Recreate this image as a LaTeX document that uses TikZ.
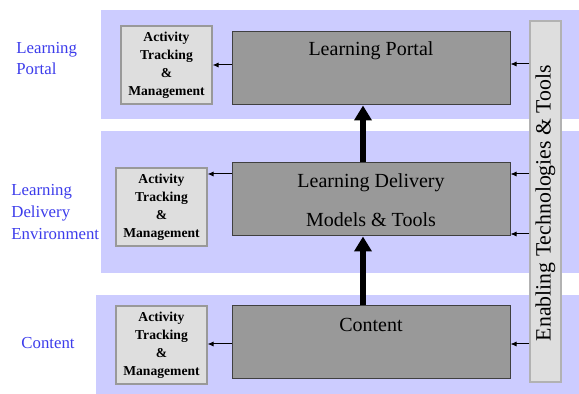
\documentclass[tikz,border=0pt]{standalone}
\usepackage{fontspec}
\setmainfont{Liberation Serif}
\usetikzlibrary{arrows.meta}
\definecolor{bandc}{RGB}{204,204,255}
\definecolor{grayc}{RGB}{153,153,153}
\definecolor{lightc}{RGB}{222,222,222}
\definecolor{labc}{RGB}{60,60,235}
\begin{document}
\begin{tikzpicture}[x=0.5pt,y=-0.5pt,
  graybox/.style={draw=black!75, fill=grayc, line width=0.5pt, minimum width=139pt, minimum height=36.5pt, inner sep=0pt},
  actbox/.style={draw=black!40, fill=lightc, line width=0.6pt, minimum width=45.5pt, minimum height=39pt, inner sep=0pt, align=center, font=\fontsize{6.8pt}{9pt}\selectfont\bfseries},
  enbox/.style={draw=black!30, fill=lightc, line width=0.6pt, minimum width=15.5pt, minimum height=180.5pt, inner sep=0pt},
  boxtext/.style={font=\fontsize{10pt}{12pt}\selectfont, inner sep=0pt},
  sidelab/.style={font=\fontsize{8.4pt}{10.8pt}\selectfont, text=labc, align=left, anchor=west, inner sep=0pt},
  thin/.style={-{Latex[length=3pt,width=2.6pt]}, line width=0.5pt},
  thick/.style={-{Triangle[length=7.5pt,width=8.5pt]}, line width=3pt}]
\useasboundingbox (0,0) rectangle (579,394);
% bands
\fill[bandc] (101,10) rectangle (579,119);
\fill[bandc] (101,131) rectangle (579,273);
\fill[bandc] (96,295) rectangle (579,394);
% side labels
\node[sidelab] (l1) at (16,58.5) {Learning\\Portal};
\node[sidelab] (l2) at (11,212) {Learning\\Delivery\\Environment};
\node[sidelab] (l3) at (21,343) {Content};
% gray boxes
\node[graybox] (g1) at (371,68.5) {};
\node[graybox] (g2) at (371,199.5) {};
\node[graybox] (g3) at (371,342.5) {};
\node[boxtext] (t1) at (371,51) {Learning Portal};
\node[boxtext] (t2a) at (371,183) {Learning Delivery};
\node[boxtext] (t2b) at (371,220) {Models \& Tools};
\node[boxtext] (t3) at (371,325) {Content};
% activity boxes
\node[actbox] (a1) at (166.5,65) {Activity\\Tracking\\\&\\Management};
\node[actbox] (a2) at (161.5,207) {Activity\\Tracking\\\&\\Management};
\node[actbox] (a3) at (161.5,345) {Activity\\Tracking\\\&\\Management};
% enabling box
\node[enbox] (en) at (545.5,201.5) {};
\node[boxtext, rotate=90] (ent) at (545.5,203) {\fontsize{10.9pt}{12pt}\selectfont Enabling Technologies \& Tools};
% thin arrows enabling -> gray
\draw[thin] (en.west |- 0,64) -- (g1.east |- 0,64);
\draw[thin] (en.west |- 0,174) -- (g2.east |- 0,174);
\draw[thin] (en.west |- 0,234) -- (g2.east |- 0,234);
\draw[thin] (en.west |- 0,344) -- (g3.east |- 0,344);
% gray -> activity
\draw[thin] (g1.west |- 0,65) -- (a1.east |- 0,65);
\draw[thin] (g2.west |- 0,174) -- (a2.east |- 0,174);
\draw[thin] (g3.west |- 0,344) -- (a3.east |- 0,344);
% thick arrows
\draw[thick] (g2.north -| 363,0) -- (g1.south -| 363,0);
\draw[thick] (g3.north -| 363,0) -- (g2.south -| 363,0);
\end{tikzpicture}
\end{document}
